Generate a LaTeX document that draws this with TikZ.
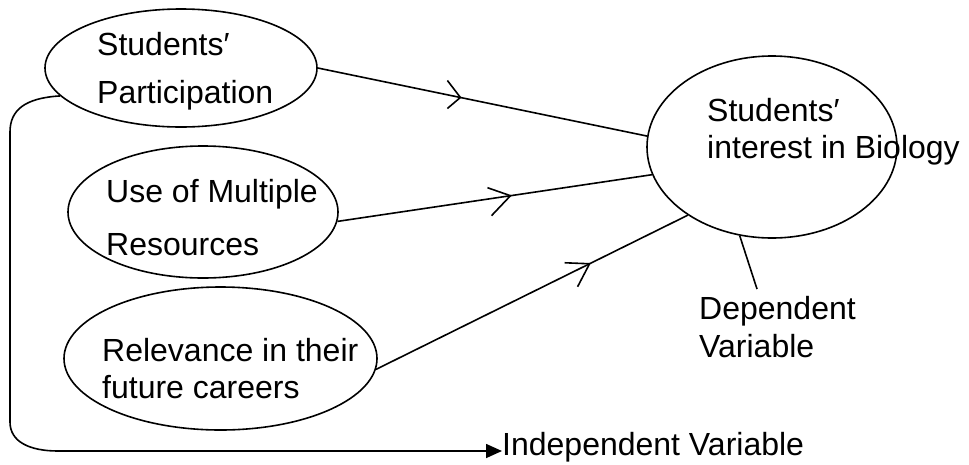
\documentclass[tikz,border=0pt]{standalone}
\usepackage{fontspec}
\setmainfont{Liberation Sans}
\usetikzlibrary{shapes.geometric,arrows.meta,calc}
\begin{document}
\begin{tikzpicture}[x=1pt,y=-1pt,
  ell/.style={draw, ellipse, inner sep=0pt, line width=1.6pt},
  lbl/.style={anchor=base west, inner sep=0pt, font=\fontsize{32}{38}\selectfont},
  conn/.style={line width=1.6pt},
  chev/.style={line width=1.6pt}]
\useasboundingbox (0,0) rectangle (969,464);
% ellipses
\node[ell, minimum width=272pt, minimum height=118pt] (p) at (181,68) {};
\node[ell, minimum width=270pt, minimum height=132pt] (m) at (203,212) {};
\node[ell, minimum width=313pt, minimum height=143pt] (r) at (220.5,358.5) {};
\node[ell, minimum width=250pt, minimum height=182pt] (s) at (772,147) {};
% texts
\node[lbl] (p1) at (97,55) {Students′};
\node[lbl] (p2) at (97,103) {Participation};
\node[lbl] (m1) at (106,202) {Use of Multiple};
\node[lbl] (m2) at (106,255) {Resources};
\node[lbl] (r1) at (102,361) {Relevance in their};
\node[lbl] (r2) at (102,398) {future careers};
\node[lbl] (s1) at (707,121) {Students′};
\node[lbl] (s2) at (707,158) {interest in Biology};
\node[lbl] (d1) at (699,319) {Dependent};
\node[lbl] (d2) at (699,357) {Variable};
\node[lbl] (ind) at (502,455) {Independent Variable};
% connectors
\draw[conn] (p.east) -- coordinate[pos=0.433] (t1) (s.175);
\draw[conn] (m.-4) -- coordinate[pos=0.55] (t2) (s.193);
\draw[conn] (r.-4) -- coordinate[pos=0.685] (t3) (s.219);
% chevrons
\draw[chev] ($(t1)+(-13,-17)$) -- (t1) -- ++(-13,11);
\draw[chev] ($(t2)+(-23,-8)$) -- (t2) -- ++(-19,20);
\draw[chev] ($(t3)+(-25,-1)$) -- (t3) -- ++(-12,23);
% dependent pointer
\coordinate (dl) at (757,289);
\draw[conn] (s.250) -- (dl);
% bracket to independent variable
\coordinate (b1) at (58,451);
\draw[conn, -{Triangle[length=16pt,width=14pt]}] (p.193.5) .. controls (25,98) and (10,110) .. (10,132) -- (10,422) .. controls (10,442) and (30,451) .. (b1) -- (b1 -| ind.west);
\end{tikzpicture}
\end{document}
